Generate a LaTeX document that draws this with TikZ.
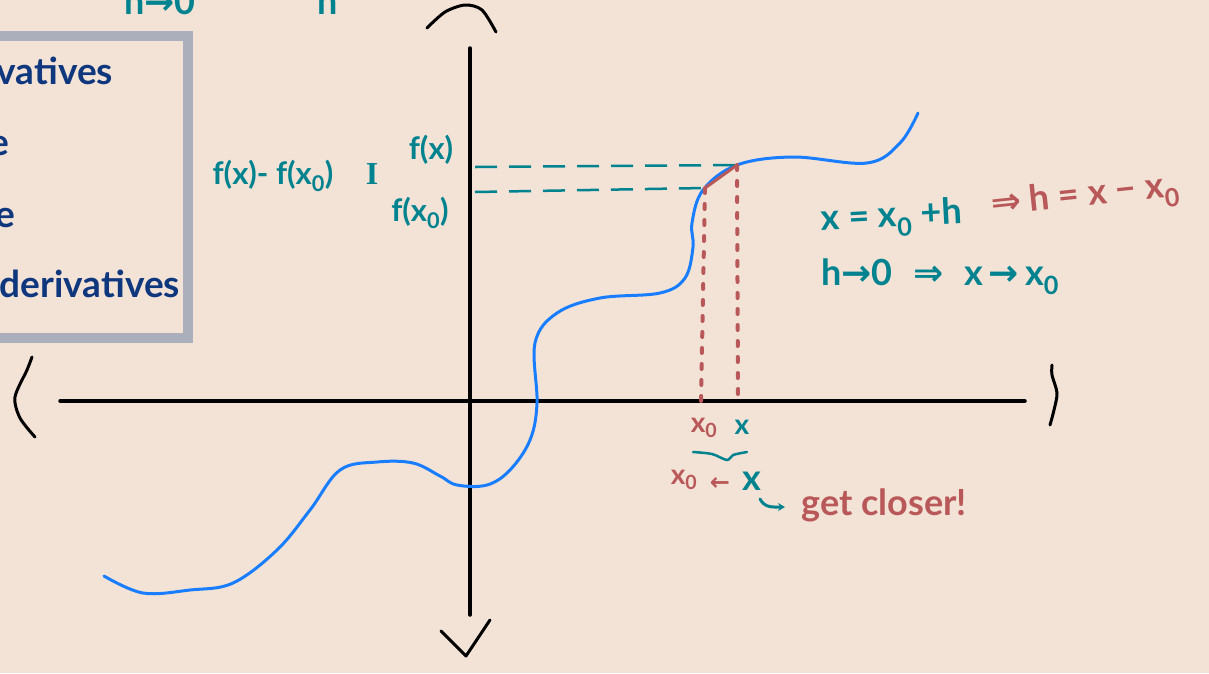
\documentclass[tikz,border=0pt]{standalone}
\usepackage{fontspec}
\setmainfont{Lato}
\newfontfamily\serifI{Liberation Serif}
\newfontfamily\arr{DejaVu Sans}
\usetikzlibrary{arrows.meta}
\definecolor{bg}{RGB}{243,227,215}
\definecolor{tealc}{RGB}{0,131,143}
\definecolor{redc}{RGB}{185,88,88}
\definecolor{curveblue}{RGB}{25,125,255}
\definecolor{navy}{RGB}{15,55,125}
\definecolor{frame}{RGB}{170,175,187}
\newcommand{\rto}{{\arr\bfseries →}}
\newcommand{\lto}{{\arr\bfseries ←}}
\newcommand{\imp}{{\arr\bfseries ⇒}}
\tikzset{
  hand/.style={line cap=round, line join=round},
  axis/.style={hand, line width=3.5pt, black},
  curve/.style={hand, line width=3pt, curveblue},
  tealdash/.style={line width=2.5pt, tealc, dash pattern=on 22pt off 12pt},
  reddot/.style={line width=4pt, redc, line cap=round, dash pattern=on 5pt off 11pt},
  lbl/.style={inner sep=0pt, outer sep=0pt},
  big/.style={lbl, font=\fontsize{37}{40}\selectfont\bfseries},
  mid/.style={lbl, font=\fontsize{36}{40}\selectfont\bfseries},
  lab/.style={lbl, font=\fontsize{31}{34}\selectfont\bfseries},
  small/.style={lbl, font=\fontsize{28}{30}\selectfont\bfseries},
}
\begin{document}
\begin{tikzpicture}[x=1pt,y=-1pt]
\useasboundingbox (0,0) rectangle (1209,673);
\clip (0,0) rectangle (1209,673);
\fill[bg] (0,0) rectangle (1209,673);

% clipped top text
\node[mid, tealc, anchor=base] (toplim) at (160,14) {h\rto0};
\node[mid, tealc, anchor=base] (topden) at (328,14) {h};

% box
\draw[frame, line width=10pt] (-20,36) rectangle (188,338);
\node[big, navy, anchor=base east] (b1) at (113,84) {ivatives};
\node[big, navy, anchor=base east] (b2) at (9,155) {e};
\node[big, navy, anchor=base east] (b3) at (15,227) {e};
\node[big, navy, anchor=base east] (b4) at (180,297) {derivatives};

% axes
\coordinate (ytop) at (470,48);
\coordinate (ybot) at (470,615);
\coordinate (xl) at (60,401);
\coordinate (xr) at (1025,401);
\draw[axis] (ytop) -- (ybot);
\draw[axis] (xl) -- (xr);
\draw[axis, line width=3pt] plot[smooth] coordinates {(427,28) (445,12) (465,5) (482,10) (496,32)};
\draw[axis, line width=3pt] (441,631) -- (466,656) -- (490,620);
\draw[axis, line width=3pt] plot[smooth] coordinates {(32,357) (27,370) (15,397) (20,418) (35,437)};
\draw[axis, line width=3pt] plot[smooth] coordinates {(1052,365) (1052,375) (1057,393) (1054,410) (1050,425)};

% curve
\draw[curve] plot[smooth, tension=0.6] coordinates {(104,576) (143,593) (190,590) (233,583) (277,550) (310,510) (340,470) (377,462) (413,463) (440,476) (457,485) (487,485) (510,470) (530,440) (537,403) (535,343) (557,313) (600,298) (660,293) (685,278) (693,247) (692,223) (703,190) (737,165) (793,157) (867,163) (900,143) (918,113)};

% points
\coordinate (P) at (737,165);
\coordinate (Q) at (705,188);
\coordinate (Pa) at (738,401);
\coordinate (Qa) at (701,401);
\coordinate (Py) at (475,167);
\coordinate (Qy) at (475,192);

\draw[tealdash] (Py) -- (P);
\draw[tealdash] (Qy) -- (Q);
\draw[reddot] (P) -- (Pa);
\draw[reddot] (Q) -- (Qa);
\draw[hand, redc, line width=3pt] (Q) -- (P);

% y labels
\node[lab, tealc, anchor=base] (lfx) at (431,159) {f(x)};
\node[lab, tealc, anchor=base] (lfx0) at (420,221) {f(x\textsubscript{0})};
\node[lab, tealc, anchor=base] (ldiff) at (273,184) {f(x)- f(x\textsubscript{0})};
\node[lbl, tealc, font=\fontsize{32}{34}\selectfont\serifI\bfseries] (lI) at (372,174) {I};

% right text
\node[mid, tealc, anchor=base, rotate=3] (eq1) at (892,227) {x = x\textsubscript{0} +h};
\node[mid, redc, anchor=base, rotate=6] (eq2) at (1086,206) {\imp\ h = x − x\textsubscript{0}};
\node[mid, tealc, anchor=base] (eq3) at (940,285) {h\rto0\hspace{12pt} \imp\hspace{12pt} x\,\rto\,x\textsubscript{0}};

% below axis
\node[small, redc] (ax0) at (704,428) {x\textsubscript{0}};
\node[small, tealc] (ax) at (742,427) {x};
\draw[hand, tealc, line width=2.5pt] plot[smooth] coordinates {(693,452) (712,454) (727,460) (733,455) (747,452)};
\node[small, redc] (bx0) at (684,480) {x\textsubscript{0}};
\node[lbl, redc, font=\fontsize{24}{26}\selectfont] (barr) at (720,484) {\lto};
\node[mid, tealc] (bx) at (752,481) {x};
\draw[hand, tealc, line width=3pt, -{Stealth[length=7pt,width=8pt]}] (760,499) .. controls (765,508) and (772,507) .. (785,507);
\node[mid, redc, anchor=base] (closer) at (884,515) {get closer!};
\end{tikzpicture}
\end{document}
